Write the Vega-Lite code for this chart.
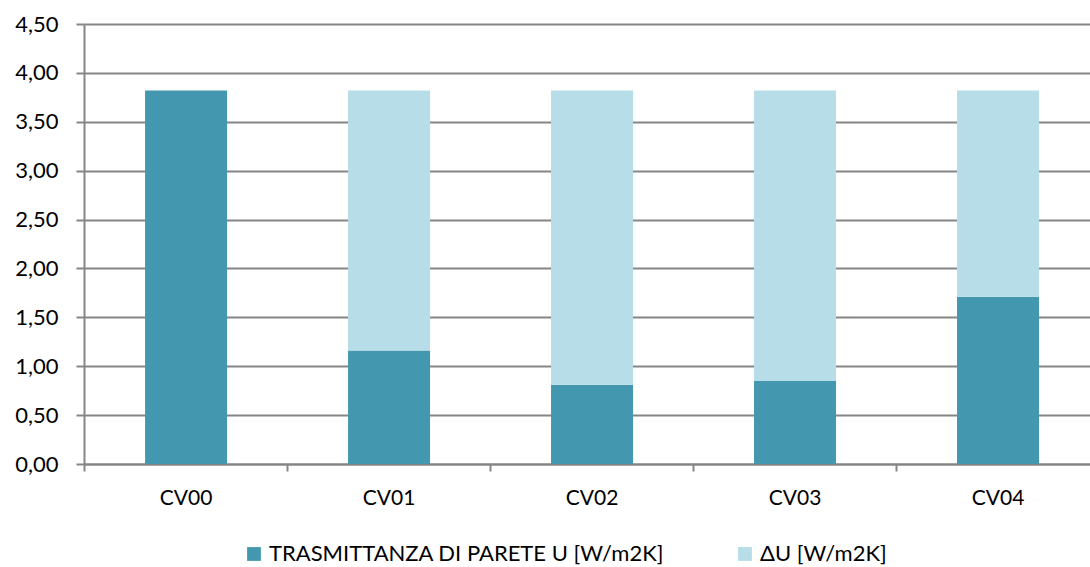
{
  "$schema": "https://vega.github.io/schema/vega-lite/v6.json",
  "autosize": {"type": "none"},
  "width": 1006,
  "height": 440,
  "padding": {"left": 84, "top": 24, "right": 0, "bottom": 103},
  "background": "white",
  "config": {
    "locale": {"number": {"decimal": ",", "thousands": ".", "grouping": [3], "currency": ["€", ""]}},
    "font": "Lato",
    "view": {"stroke": null}
  },
  "data": {
    "values": [
      {"cv": "CV00", "serie": "TRASMITTANZA  DI PARETE  U [W/m2K]", "ord": 1, "u": 3.82},
      {"cv": "CV00", "serie": "ΔU [W/m2K]", "ord": 2, "u": 0.0},
      {"cv": "CV01", "serie": "TRASMITTANZA  DI PARETE  U [W/m2K]", "ord": 1, "u": 1.16},
      {"cv": "CV01", "serie": "ΔU [W/m2K]", "ord": 2, "u": 2.66},
      {"cv": "CV02", "serie": "TRASMITTANZA  DI PARETE  U [W/m2K]", "ord": 1, "u": 0.81},
      {"cv": "CV02", "serie": "ΔU [W/m2K]", "ord": 2, "u": 3.01},
      {"cv": "CV03", "serie": "TRASMITTANZA  DI PARETE  U [W/m2K]", "ord": 1, "u": 0.85},
      {"cv": "CV03", "serie": "ΔU [W/m2K]", "ord": 2, "u": 2.97},
      {"cv": "CV04", "serie": "TRASMITTANZA  DI PARETE  U [W/m2K]", "ord": 1, "u": 1.71},
      {"cv": "CV04", "serie": "ΔU [W/m2K]", "ord": 2, "u": 2.11}
    ]
  },
  "mark": {"type": "bar"},
  "encoding": {
    "x": {
      "field": "cv",
      "type": "nominal",
      "sort": null,
      "scale": {"paddingInner": 0.596, "paddingOuter": 0.276, "align": 0.545},
      "axis": {
        "title": null,
        "labelAngle": 0,
        "labelFontSize": 21,
        "labelColor": "#000000",
        "labelPadding": 16,
        "bandPosition": -0.738,
        "tickColor": "#868686",
        "tickWidth": 2,
        "tickSize": 7,
        "domainColor": "#868686",
        "domainWidth": 2,
        "grid": false
      }
    },
    "y": {
      "field": "u",
      "type": "quantitative",
      "stack": "zero",
      "scale": {"domain": [0, 4.5], "nice": false},
      "axis": {
        "title": null,
        "values": [0, 0.5, 1, 1.5, 2, 2.5, 3, 3.5, 4, 4.5],
        "format": ".2f",
        "labelFontSize": 22,
        "labelColor": "#000000",
        "labelPadding": 18,
        "tickColor": "#868686",
        "tickWidth": 2,
        "tickSize": 8,
        "domainColor": "#868686",
        "domainWidth": 2,
        "grid": true,
        "gridColor": "#868686",
        "gridWidth": 2
      }
    },
    "order": {"field": "ord", "type": "quantitative"},
    "color": {
      "field": "serie",
      "type": "nominal",
      "scale": {
        "domain": ["TRASMITTANZA  DI PARETE  U [W/m2K]", "ΔU [W/m2K]"],
        "range": ["#4398AF", "#B7DDE8"]
      },
      "legend": {
        "title": null,
        "orient": "none",
        "legendX": 159,
        "legendY": 519,
        "direction": "horizontal",
        "symbolType": "square",
        "symbolSize": 190,
        "symbolStrokeWidth": 0,
        "labelFontSize": 22,
        "labelColor": "#000000",
        "labelLimit": 600,
        "columnPadding": 58,
        "labelOffset": 4
      }
    }
  }
}
